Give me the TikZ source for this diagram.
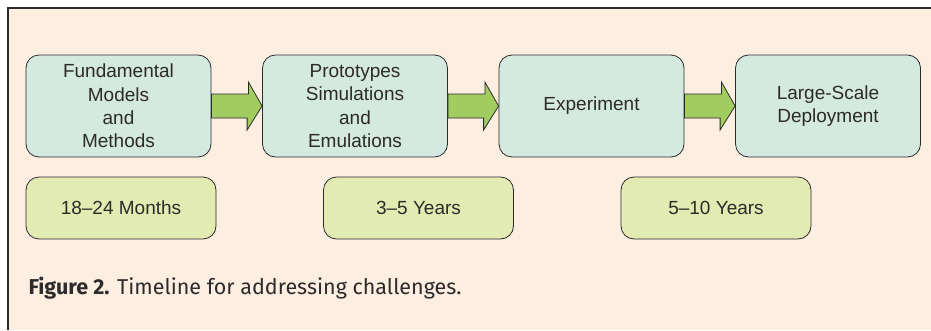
\documentclass[tikz,border=0pt]{standalone}
\usepackage{fontspec}
\setmainfont{Liberation Sans}
\newfontfamily\capfont{Fira Sans}
\usetikzlibrary{positioning}

\definecolor{bgpeach}{RGB}{253,238,226}
\definecolor{stagefill}{RGB}{212,233,223}
\definecolor{timefill}{RGB}{226,235,178}
\definecolor{arrowgreen}{RGB}{160,204,96}
\definecolor{inkgrey}{RGB}{45,42,42}

\begin{document}
\begin{tikzpicture}[x=1pt,y=-1pt,node distance=236.5pt,
            stage/.style={draw=inkgrey,fill=stagefill,rounded corners=13pt,line width=0.8pt,
              minimum width=185pt,minimum height=102pt,align=center,text=inkgrey,
              font=\fontsize{19}{23.3}\selectfont},
            period/.style={stage,fill=timefill,minimum width=190pt,minimum height=62pt},
            flow/.style={draw=inkgrey,fill=arrowgreen,line width=0.8pt,line join=miter}]
            \useasboundingbox (0,0) rectangle (931,330);
            \fill[bgpeach] (8,8) rectangle (931,330);
            \draw[inkgrey,line width=1.4pt] (8,330) -- (8,8) -- (931,8);

            \node[stage] (m1) at (118.5,106) {Fundamental\\Models\\and\\Methods};
            \node[stage] (m2) [right of=m1] {Prototypes\\Simulations\\and\\Emulations};
            \node[stage] (m3) [right of=m2] {Experiment};
            \node[stage] (m4) [right of=m3] {Large-Scale\\Deployment};

            % block arrows between the stages
            \foreach \from/\to in {m1/m2,m2/m3,m3/m4}
              \draw[flow] ([yshift=12pt]\from.east) -- ++(37,0) -- ++(0,-12)
                  -- (\to.west) -- ++(-15,24) -- ++(0,-12)
                  -- ([yshift=-12pt]\from.east) -- cycle;

            \node[period] (y1) at (121,208) {18--24 Months};
            \node[period] (y2) [right of=y1,node distance=297.5pt] {3--5 Years};
            \node[period] (y3) [right of=y2,node distance=297.5pt] {5--10 Years};

            \node[anchor=base west,text=inkgrey,font=\capfont\fontsize{21.5}{24}\selectfont] (cap) at (25,294)
                  {\textbf{Figure 2.} Timeline for addressing challenges.};
        \end{tikzpicture}
\end{document}
